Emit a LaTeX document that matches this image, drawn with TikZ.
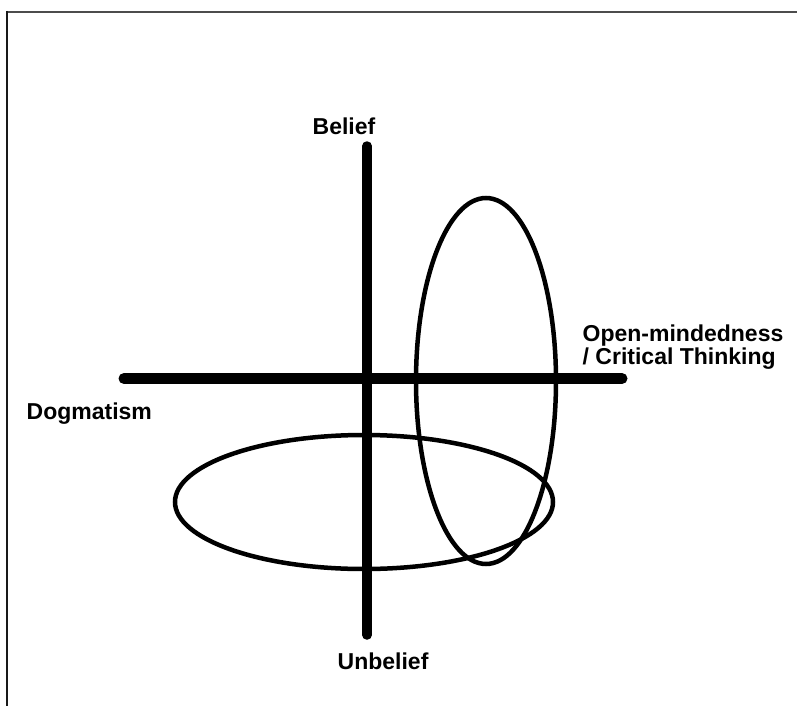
\documentclass[tikz,border=0pt]{standalone}
\usepackage{fontspec}
\setmainfont{Liberation Sans}
\tikzset{
  axis/.style={draw=black, line width=11pt, line cap=round},
  spread/.style={draw=black, line width=4.5pt},
  pole/.style={font=\bfseries\fontsize{23}{23}\selectfont,
    inner sep=0pt, align=left},
  frame/.style={line width=2pt}
}

\begin{document}
\begin{tikzpicture}[x=1pt, y=-1pt]
\useasboundingbox (0,0) rectangle (797,706);
\fill[white] (0,0) rectangle (797,706);

%% ── Frame ──────────────────────────────────────────────
\draw[frame, draw=black!70] (797,12) -- (7,12);
\draw[frame, draw=black!90] (7,11) -- (7,706);

%% ── Axes ───────────────────────────────────────────────
\coordinate (beliefend)   at (367,146);
\coordinate (unbeliefend) at (367,635);
\coordinate (dogmaend)    at (124,378.5);
\coordinate (openend)     at (622,378.5);
\draw[axis, line width=9.5pt] (beliefend) -- (unbeliefend);   % Belief – Unbelief
\draw[axis] (dogmaend) -- (openend);                          % Dogmatism – Open-mindedness

%% ── Ellipses ───────────────────────────────────────────
\draw[spread] (486,381) ellipse [x radius=70, y radius=183];
\draw[spread] (364,502) ellipse [x radius=189, y radius=67];

%% ── Labels ─────────────────────────────────────────────
\node[pole, anchor=base west] (belief)   at (312.5,135) {Belief};
\node[pole, anchor=base west] (unbelief) at (337.5,669) {Unbelief};
\node[pole, anchor=base west] (dogma)    at (26.5,419)  {Dogmatism};
\node[pole, anchor=north west] (open)    at (582.5,325) {Open-mindedness\\/ Critical Thinking};

\end{tikzpicture}
\end{document}
